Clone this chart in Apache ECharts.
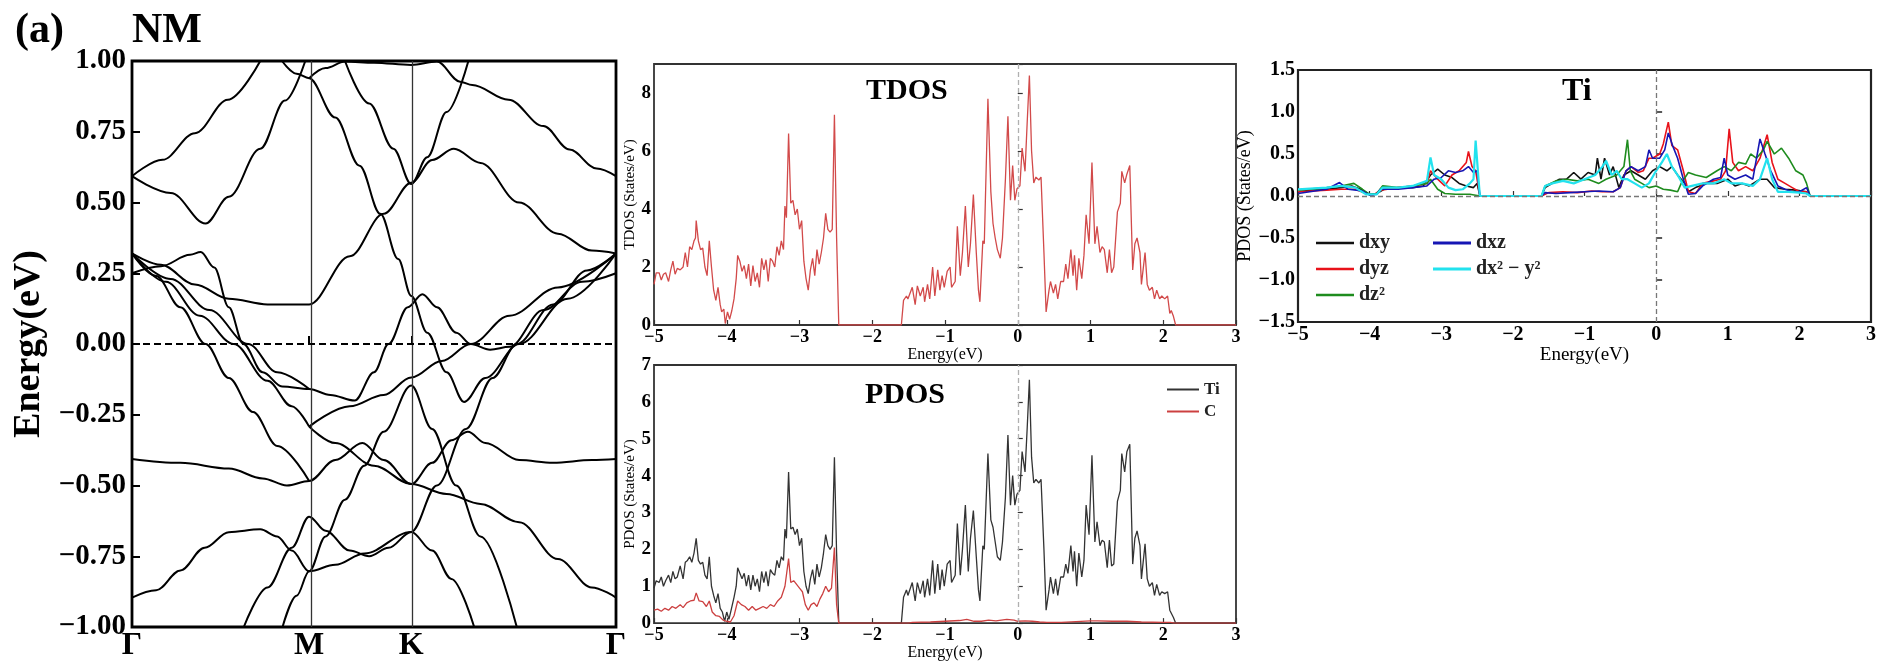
<!DOCTYPE html>
<html>
<head>
<meta charset="utf-8">
<script src="https://cdn.jsdelivr.net/npm/echarts@6/dist/echarts.min.js"></script>
<style>
  html, body { margin: 0; padding: 0; background: #fff; }
  #chart { width: 1879px; height: 662px; }
</style>
</head>
<body>
<div id="chart"></div>
<script>
// k-path ticks of the band panel (normalised path length)
const kTicks = [0, 0.366, 0.577, 1]
const kLabels = ['Γ', 'M', 'K', 'Γ']

// band lines: [k, E(eV)]
const band1 = [[0, 0.593], [0.063, 0.651], [0.13, 0.745], [0.198, 0.863], [0.265, 1.0]]
const band2 = [[0, 0.593], [0.08, 0.534], [0.152, 0.426], [0.2, 0.52], [0.265, 0.69], [0.316, 0.86], [0.358, 1.0]]
const band3 = [[0.31, 1.0], [0.34, 0.955], [0.366, 0.939], [0.42, 0.8], [0.47, 0.63], [0.513, 0.46], [0.55, 0.3], [0.577, 0.17], [0.61, 0.04], [0.65, -0.1], [0.686, -0.205], [0.73, -0.12], [0.8, 0.0], [0.9, 0.16], [1, 0.32]]
const band4 = [[0.44, 1.0], [0.49, 0.85], [0.54, 0.69], [0.577, 0.565], [0.61, 0.66], [0.65, 0.82], [0.695, 1.0]]
const band5 = [[0.366, 0.939], [0.4, 0.975], [0.44, 0.998], [0.5, 0.994], [0.577, 0.986], [0.63, 0.998], [0.678, 0.927], [0.703, 0.915], [0.778, 0.863], [0.85, 0.77], [0.904, 0.687], [0.96, 0.62], [1, 0.593]]
const band6 = [[0, 0.32], [0.06, 0.28], [0.13, 0.21], [0.2, 0.16], [0.28, 0.14], [0.366, 0.14], [0.45, 0.31], [0.52, 0.46], [0.577, 0.57], [0.62, 0.65], [0.665, 0.69], [0.72, 0.64], [0.8, 0.5], [0.88, 0.39], [0.95, 0.33], [1, 0.32]]
const band7 = [[0, 0.25], [0.06, 0.275], [0.12, 0.315], [0.142, 0.325], [0.17, 0.27], [0.2, 0.13], [0.23, 0.0], [0.27, -0.1], [0.31, -0.15], [0.366, -0.159], [0.41, -0.18], [0.46, -0.2], [0.5, -0.1], [0.53, 0.0], [0.57, 0.13], [0.6, 0.176], [0.63, 0.13], [0.67, 0.04], [0.7, 0.0], [0.74, -0.02], [0.78, -0.01], [0.85, 0.12], [0.93, 0.22], [1, 0.25]]
const band8 = [[0, 0.32], [0.05, 0.24], [0.1, 0.13], [0.152, 0.0], [0.2, -0.12], [0.25, -0.24], [0.3, -0.36], [0.366, -0.484]]
const band9 = [[0, 0.32], [0.07, 0.22], [0.14, 0.1], [0.21, 0.0], [0.28, -0.13], [0.33, -0.22], [0.366, -0.292]]
const band10 = [[0, 0.32], [0.08, 0.23], [0.16, 0.12], [0.24, 0.0], [0.3, -0.1], [0.366, -0.159]]
const band11 = [[0.366, -0.292], [0.42, -0.35], [0.5, -0.43], [0.577, -0.495], [0.65, -0.53], [0.72, -0.565], [0.8, -0.63], [0.88, -0.76], [0.95, -0.86], [1, -0.896]]
const band12 = [[0.366, -0.292], [0.45, -0.22], [0.52, -0.18], [0.577, -0.118], [0.64, -0.06], [0.7, 0.0], [0.78, 0.1], [0.88, 0.2], [1, 0.32]]
const band13 = [[0, -0.406], [0.1, -0.42], [0.2, -0.44], [0.27, -0.475], [0.32, -0.5], [0.366, -0.484], [0.42, -0.41], [0.476, -0.35], [0.52, -0.41], [0.577, -0.495], [0.62, -0.42], [0.66, -0.34], [0.694, -0.31], [0.73, -0.35], [0.8, -0.41], [0.87, -0.42], [0.95, -0.41], [1, -0.406]]
const band14 = [[0, -0.896], [0.05, -0.87], [0.1, -0.8], [0.15, -0.72], [0.2, -0.665], [0.265, -0.655], [0.3, -0.68], [0.33, -0.73], [0.366, -0.803], [0.42, -0.78], [0.48, -0.74], [0.577, -0.664], [0.62, -0.73], [0.66, -0.83], [0.707, -1.0]]
const band15 = [[0.231, -1], [0.28, -0.86], [0.33, -0.72], [0.366, -0.61], [0.4, -0.66], [0.45, -0.73], [0.49, -0.75], [0.53, -0.72], [0.577, -0.664], [0.63, -0.5], [0.69, -0.3], [0.745, -0.12], [0.795, 0.0], [0.87, 0.14], [0.94, 0.26], [1, 0.32]]
const band16 = [[0.311, -1], [0.34, -0.89], [0.366, -0.803], [0.4, -0.68], [0.44, -0.55], [0.48, -0.43], [0.52, -0.31], [0.577, -0.147], [0.62, -0.3], [0.67, -0.5], [0.72, -0.68], [0.795, -1.0]]
const bands = [band1, band2, band3, band4, band5, band6, band7, band8, band9, band10, band11, band12, band13, band14, band15, band16]

// total DOS: [E, states/eV]
const tdos = [[-5.0, 1.4], [-4.97, 1.8], [-4.93, 1.8], [-4.9, 1.55], [-4.87, 1.75], [-4.84, 1.8], [-4.8, 1.5], [-4.77, 1.9], [-4.74, 2.2], [-4.71, 1.75], [-4.68, 1.95], [-4.64, 1.9], [-4.6, 2.0], [-4.57, 2.5], [-4.54, 2.0], [-4.51, 2.7], [-4.48, 2.6], [-4.45, 2.9], [-4.43, 3.0], [-4.42, 3.6], [-4.39, 2.9], [-4.36, 2.6], [-4.33, 2.65], [-4.3, 2.0], [-4.27, 1.7], [-4.24, 2.9], [-4.21, 2.0], [-4.18, 1.2], [-4.15, 0.85], [-4.12, 1.3], [-4.09, 0.7], [-4.07, 0.45], [-4.04, 0.55], [-4.02, 0.05], [-3.99, 0.45], [-3.96, 0.2], [-3.93, 0.5], [-3.9, 0.9], [-3.87, 1.6], [-3.85, 2.4], [-3.82, 2.2], [-3.79, 1.85], [-3.76, 2.05], [-3.73, 1.6], [-3.7, 2.1], [-3.67, 1.35], [-3.64, 2.05], [-3.61, 1.5], [-3.58, 1.8], [-3.55, 1.3], [-3.52, 2.3], [-3.49, 1.9], [-3.46, 2.25], [-3.43, 1.5], [-3.4, 2.3], [-3.37, 2.2], [-3.34, 2.0], [-3.31, 2.7], [-3.28, 2.4], [-3.25, 2.9], [-3.22, 2.6], [-3.2, 4.1], [-3.18, 3.7], [-3.15, 6.6], [-3.12, 4.2], [-3.09, 4.3], [-3.06, 3.8], [-3.03, 4.0], [-3.0, 3.3], [-2.97, 3.6], [-2.94, 2.2], [-2.91, 1.6], [-2.88, 1.2], [-2.85, 1.9], [-2.82, 2.3], [-2.79, 1.7], [-2.76, 2.6], [-2.73, 2.1], [-2.7, 2.5], [-2.67, 3.0], [-2.64, 3.85], [-2.61, 3.3], [-2.58, 3.2], [-2.55, 3.3], [-2.52, 7.25], [-2.49, 3.0], [-2.46, 0.0],
  [-1.6, 0.0], [-1.57, 0.85], [-1.53, 1.0], [-1.51, 0.9], [-1.45, 1.3], [-1.41, 0.7], [-1.38, 1.35], [-1.34, 1.0], [-1.3, 1.3], [-1.28, 0.8], [-1.24, 1.4], [-1.21, 0.9], [-1.17, 2.0], [-1.14, 1.0], [-1.1, 1.9], [-1.07, 1.2], [-1.04, 1.7], [-1.01, 1.3], [-0.97, 1.85], [-0.93, 2.0], [-0.91, 1.3], [-0.86, 1.5], [-0.83, 3.4], [-0.79, 1.7], [-0.76, 2.5], [-0.72, 4.1], [-0.68, 2.0], [-0.65, 2.8], [-0.61, 4.5], [-0.57, 2.5], [-0.54, 1.2], [-0.52, 0.8], [-0.48, 2.9], [-0.46, 2.8], [-0.41, 7.8], [-0.37, 4.6], [-0.34, 3.5], [-0.31, 3.0], [-0.28, 2.6], [-0.24, 2.3], [-0.21, 3.0], [-0.17, 5.0], [-0.135, 7.2], [-0.1, 4.3], [-0.07, 5.5], [-0.04, 4.3], [-0.01, 4.7], [0.03, 4.8], [0.06, 6.1], [0.1, 5.3], [0.13, 7.0], [0.16, 8.6], [0.19, 6.0], [0.22, 4.9], [0.25, 5.1], [0.29, 5.0], [0.32, 5.1], [0.36, 2.5], [0.39, 0.45], [0.43, 1.2], [0.45, 1.5], [0.49, 1.1], [0.52, 1.4], [0.55, 0.9], [0.59, 1.5], [0.63, 1.5], [0.66, 2.1], [0.69, 1.6], [0.73, 2.6], [0.76, 1.7], [0.78, 2.4], [0.81, 1.2], [0.84, 2.3], [0.88, 1.6], [0.91, 2.4], [0.94, 3.8], [0.98, 2.8], [1.02, 5.6], [1.06, 2.8], [1.09, 3.4], [1.13, 2.5], [1.16, 2.7], [1.19, 2.6], [1.23, 1.8], [1.26, 2.6], [1.29, 1.8], [1.32, 2.0], [1.37, 3.9], [1.41, 4.2], [1.43, 5.3], [1.47, 4.9], [1.5, 5.2], [1.54, 5.5], [1.58, 1.9], [1.61, 2.8], [1.64, 3.0], [1.68, 2.5], [1.7, 1.4], [1.75, 2.5], [1.78, 1.4], [1.81, 1.2], [1.85, 1.3], [1.88, 0.9], [1.91, 1.2], [1.95, 0.9], [1.98, 1.0], [2.02, 0.9], [2.06, 1.0], [2.09, 0.4], [2.11, 0.5], [2.14, 0.3], [2.17, 0.0], [3.0, 0.0]]

// projected DOS
const pdosTi = [[-5.0, 0.95], [-4.97, 1.15], [-4.93, 1.1], [-4.9, 1.25], [-4.87, 1.0], [-4.84, 1.15], [-4.8, 1.3], [-4.77, 1.1], [-4.74, 1.4], [-4.71, 1.2], [-4.68, 1.25], [-4.64, 1.55], [-4.6, 1.2], [-4.57, 1.65], [-4.54, 1.7], [-4.51, 1.8], [-4.48, 1.65], [-4.45, 1.9], [-4.42, 2.3], [-4.39, 1.7], [-4.36, 1.6], [-4.33, 1.65], [-4.3, 1.3], [-4.27, 1.2], [-4.24, 1.8], [-4.21, 1.0], [-4.18, 0.75], [-4.15, 0.55], [-4.12, 0.8], [-4.09, 0.4], [-4.06, 0.3], [-4.03, 0.05], [-4.0, 0.3], [-3.97, 0.1], [-3.94, 0.35], [-3.9, 0.7], [-3.87, 1.0], [-3.85, 1.5], [-3.82, 1.35], [-3.79, 1.2], [-3.76, 1.35], [-3.73, 1.0], [-3.7, 1.3], [-3.67, 0.9], [-3.64, 1.3], [-3.61, 1.0], [-3.58, 1.2], [-3.55, 0.85], [-3.52, 1.4], [-3.49, 1.1], [-3.46, 1.4], [-3.43, 1.0], [-3.4, 1.45], [-3.37, 1.35], [-3.34, 1.3], [-3.31, 1.7], [-3.28, 1.5], [-3.25, 1.8], [-3.22, 1.7], [-3.2, 2.55], [-3.18, 2.3], [-3.15, 4.1], [-3.12, 2.55], [-3.09, 2.6], [-3.06, 2.4], [-3.03, 2.55], [-3.0, 2.1], [-2.97, 2.3], [-2.94, 1.4], [-2.91, 1.0], [-2.88, 0.8], [-2.85, 1.2], [-2.82, 1.45], [-2.79, 1.05], [-2.76, 1.6], [-2.73, 1.25], [-2.7, 1.5], [-2.67, 1.9], [-2.64, 2.4], [-2.61, 2.1], [-2.58, 2.0], [-2.55, 2.1], [-2.52, 4.5], [-2.49, 1.9], [-2.46, 0.0],
  [-1.6, 0.0], [-1.57, 0.7], [-1.53, 0.9], [-1.51, 0.75], [-1.45, 1.1], [-1.41, 0.6], [-1.38, 1.1], [-1.34, 0.8], [-1.3, 1.15], [-1.28, 0.7], [-1.24, 1.2], [-1.21, 0.75], [-1.17, 1.7], [-1.14, 0.8], [-1.1, 1.6], [-1.07, 0.9], [-1.04, 1.45], [-1.01, 1.0], [-0.97, 1.6], [-0.93, 1.7], [-0.91, 1.1], [-0.86, 1.3], [-0.83, 2.7], [-0.79, 1.3], [-0.76, 2.0], [-0.72, 3.2], [-0.68, 1.4], [-0.65, 2.3], [-0.61, 3.05], [-0.57, 1.8], [-0.54, 0.9], [-0.52, 0.6], [-0.48, 2.1], [-0.46, 2.0], [-0.41, 4.6], [-0.37, 2.8], [-0.34, 2.6], [-0.31, 2.2], [-0.28, 1.8], [-0.24, 1.7], [-0.21, 2.2], [-0.17, 3.4], [-0.135, 5.1], [-0.1, 3.2], [-0.07, 4.0], [-0.04, 3.2], [-0.01, 3.5], [0.03, 3.6], [0.06, 4.65], [0.1, 4.1], [0.13, 5.3], [0.16, 6.6], [0.19, 4.5], [0.22, 3.8], [0.25, 3.9], [0.29, 3.8], [0.32, 3.9], [0.36, 2.0], [0.39, 0.35], [0.43, 0.9], [0.45, 1.25], [0.49, 0.8], [0.52, 1.2], [0.55, 0.75], [0.59, 1.25], [0.63, 1.25], [0.66, 1.6], [0.69, 1.35], [0.73, 2.1], [0.76, 1.4], [0.78, 1.95], [0.81, 1.0], [0.84, 1.9], [0.88, 1.25], [0.91, 1.7], [0.94, 3.2], [0.98, 2.4], [1.02, 4.55], [1.06, 2.2], [1.09, 2.75], [1.13, 2.1], [1.16, 2.25], [1.19, 2.2], [1.23, 1.5], [1.26, 2.25], [1.29, 1.55], [1.32, 1.6], [1.37, 3.3], [1.41, 3.6], [1.43, 4.6], [1.47, 4.1], [1.5, 4.65], [1.54, 4.85], [1.58, 1.6], [1.61, 2.3], [1.64, 2.5], [1.68, 2.1], [1.7, 1.2], [1.75, 2.15], [1.78, 1.2], [1.81, 1.0], [1.85, 1.1], [1.88, 0.75], [1.91, 1.05], [1.95, 0.75], [1.98, 0.85], [2.02, 0.8], [2.06, 0.85], [2.09, 0.35], [2.11, 0.4], [2.14, 0.15], [2.17, 0.0], [3.0, 0.0]]
const pdosC = [[-5.0, 0.35], [-4.95, 0.38], [-4.9, 0.32], [-4.85, 0.4], [-4.8, 0.35], [-4.75, 0.45], [-4.7, 0.4], [-4.64, 0.5], [-4.6, 0.42], [-4.55, 0.55], [-4.5, 0.6], [-4.45, 0.62], [-4.42, 0.82], [-4.38, 0.6], [-4.33, 0.58], [-4.28, 0.45], [-4.24, 0.6], [-4.2, 0.3], [-4.15, 0.2], [-4.1, 0.18], [-4.05, 0.08], [-4.0, 0.05], [-3.95, 0.03], [-3.9, 0.2], [-3.85, 0.6], [-3.8, 0.5], [-3.75, 0.45], [-3.7, 0.35], [-3.65, 0.45], [-3.6, 0.35], [-3.55, 0.4], [-3.5, 0.45], [-3.45, 0.4], [-3.4, 0.5], [-3.35, 0.45], [-3.3, 0.6], [-3.25, 0.7], [-3.2, 1.0], [-3.18, 0.95], [-3.15, 1.75], [-3.12, 1.1], [-3.08, 1.15], [-3.04, 1.05], [-3.0, 0.95], [-2.96, 0.85], [-2.92, 0.5], [-2.88, 0.35], [-2.84, 0.5], [-2.8, 0.55], [-2.76, 0.45], [-2.72, 0.65], [-2.68, 0.8], [-2.64, 1.0], [-2.6, 0.85], [-2.56, 0.95], [-2.52, 2.05], [-2.49, 0.5], [-2.46, 0.0], [-1.5, 0.0], [-1.45, 0.02], [-1.2, 0.03], [-1.0, 0.05], [-0.8, 0.07], [-0.7, 0.1], [-0.6, 0.05], [-0.5, 0.05], [-0.4, 0.08], [-0.3, 0.06], [-0.15, 0.1], [-0.05, 0.08], [0.0, 0.05], [0.1, 0.06], [0.2, 0.05], [0.3, 0.03], [0.4, 0.02], [0.6, 0.02], [0.8, 0.04], [1.0, 0.06], [1.02, 0.1], [1.1, 0.06], [1.3, 0.05], [1.5, 0.05], [1.7, 0.03], [2.0, 0.02], [2.1, 0.02], [2.15, 0.0], [3.0, 0.0]]

// Ti d-orbital PDOS
const dxy = [[-5, 0.05], [-4.8, 0.07], [-4.6, 0.08], [-4.4, 0.1], [-4.25, 0.12], [-4.1, 0.07], [-4.0, 0.02], [-3.9, 0.03], [-3.8, 0.08], [-3.6, 0.1], [-3.4, 0.1], [-3.25, 0.12], [-3.15, 0.25], [-3.05, 0.32], [-2.95, 0.25], [-2.85, 0.22], [-2.75, 0.15], [-2.65, 0.12], [-2.55, 0.1], [-2.5, 0.15], [-2.46, 0], [-1.6, 0], [-1.55, 0.1], [-1.45, 0.15], [-1.35, 0.2], [-1.25, 0.2], [-1.15, 0.28], [-1.05, 0.2], [-0.95, 0.28], [-0.85, 0.25], [-0.82, 0.45], [-0.77, 0.2], [-0.72, 0.45], [-0.65, 0.25], [-0.6, 0.35], [-0.52, 0.1], [-0.45, 0.25], [-0.35, 0.3], [-0.25, 0.25], [-0.15, 0.2], [-0.05, 0.3], [0.05, 0.35], [0.15, 0.3], [0.22, 0.35], [0.3, 0.25], [0.4, 0.15], [0.45, 0.05], [0.55, 0.1], [0.7, 0.15], [0.85, 0.15], [1.0, 0.2], [1.1, 0.12], [1.2, 0.15], [1.3, 0.12], [1.45, 0.2], [1.55, 0.2], [1.65, 0.1], [1.8, 0.08], [1.95, 0.07], [2.1, 0.05], [2.15, 0], [3, 0]]
const dyz = [[-5, 0.05], [-4.6, 0.07], [-4.4, 0.08], [-4.2, 0.08], [-4.05, 0.03], [-3.95, 0.01], [-3.85, 0.07], [-3.6, 0.1], [-3.4, 0.12], [-3.2, 0.15], [-3.15, 0.3], [-3.05, 0.2], [-2.95, 0.12], [-2.85, 0.25], [-2.75, 0.3], [-2.65, 0.4], [-2.62, 0.53], [-2.57, 0.35], [-2.52, 0.3], [-2.46, 0], [-1.6, 0], [-1.5, 0.04], [-1.3, 0.05], [-1.1, 0.04], [-0.9, 0.06], [-0.75, 0.05], [-0.6, 0.05], [-0.5, 0.1], [-0.42, 0.3], [-0.35, 0.35], [-0.25, 0.28], [-0.18, 0.3], [-0.1, 0.45], [-0.05, 0.45], [0.05, 0.5], [0.1, 0.62], [0.17, 0.88], [0.22, 0.6], [0.3, 0.55], [0.38, 0.3], [0.45, 0.05], [0.55, 0.03], [0.65, 0.15], [0.8, 0.18], [0.9, 0.2], [0.97, 0.3], [1.02, 0.8], [1.07, 0.4], [1.15, 0.3], [1.25, 0.35], [1.35, 0.3], [1.45, 0.45], [1.55, 0.73], [1.62, 0.4], [1.7, 0.2], [1.8, 0.15], [1.9, 0.1], [2.0, 0.05], [2.1, 0.05], [2.15, 0], [3, 0]]
const dz2 = [[-5, 0.07], [-4.6, 0.1], [-4.4, 0.12], [-4.22, 0.15], [-4.1, 0.08], [-4.0, 0.02], [-3.9, 0.03], [-3.82, 0.12], [-3.6, 0.1], [-3.4, 0.12], [-3.2, 0.15], [-3.15, 0.2], [-3.05, 0.08], [-2.95, 0.03], [-2.8, 0.02], [-2.6, 0.02], [-2.46, 0], [-1.6, 0], [-1.55, 0.12], [-1.4, 0.18], [-1.25, 0.2], [-1.1, 0.18], [-0.95, 0.2], [-0.8, 0.15], [-0.7, 0.2], [-0.55, 0.25], [-0.45, 0.35], [-0.4, 0.67], [-0.36, 0.3], [-0.3, 0.2], [-0.2, 0.15], [-0.1, 0.1], [0.0, 0.12], [0.1, 0.08], [0.2, 0.07], [0.3, 0.05], [0.35, 0.15], [0.45, 0.28], [0.55, 0.25], [0.7, 0.22], [0.85, 0.3], [0.95, 0.35], [1.05, 0.3], [1.15, 0.4], [1.25, 0.38], [1.32, 0.5], [1.4, 0.45], [1.5, 0.55], [1.55, 0.65], [1.65, 0.5], [1.75, 0.57], [1.85, 0.45], [1.95, 0.3], [2.05, 0.25], [2.1, 0.15], [2.15, 0], [3, 0]]
const dxz = [[-5, 0.03], [-4.6, 0.08], [-4.42, 0.16], [-4.3, 0.08], [-4.1, 0.06], [-4.0, 0.01], [-3.9, 0.02], [-3.85, 0.08], [-3.6, 0.08], [-3.4, 0.1], [-3.2, 0.12], [-3.1, 0.2], [-3.0, 0.22], [-2.9, 0.3], [-2.8, 0.28], [-2.7, 0.3], [-2.62, 0.35], [-2.55, 0.28], [-2.5, 0.3], [-2.46, 0], [-1.6, 0], [-1.55, 0.04], [-1.4, 0.03], [-1.2, 0.04], [-1.0, 0.05], [-0.8, 0.06], [-0.6, 0.05], [-0.5, 0.1], [-0.42, 0.3], [-0.35, 0.35], [-0.25, 0.3], [-0.15, 0.35], [-0.1, 0.55], [-0.05, 0.45], [0.05, 0.45], [0.12, 0.55], [0.17, 0.75], [0.23, 0.6], [0.3, 0.45], [0.38, 0.2], [0.45, 0.02], [0.55, 0.03], [0.65, 0.12], [0.8, 0.2], [0.9, 0.22], [0.95, 0.45], [1.0, 0.25], [1.1, 0.2], [1.25, 0.25], [1.35, 0.2], [1.45, 0.68], [1.52, 0.5], [1.6, 0.3], [1.7, 0.12], [1.8, 0.08], [1.9, 0.05], [2.0, 0.05], [2.1, 0.1], [2.15, 0], [3, 0]]
const dx2y2 = [[-5, 0.08], [-4.6, 0.1], [-4.4, 0.12], [-4.2, 0.1], [-4.05, 0.02], [-3.9, 0.02], [-3.82, 0.1], [-3.6, 0.1], [-3.4, 0.12], [-3.2, 0.18], [-3.15, 0.46], [-3.1, 0.25], [-3.0, 0.2], [-2.9, 0.1], [-2.8, 0.07], [-2.7, 0.08], [-2.6, 0.15], [-2.55, 0.2], [-2.52, 0.66], [-2.48, 0.2], [-2.46, 0], [-1.6, 0], [-1.55, 0.12], [-1.45, 0.15], [-1.3, 0.18], [-1.15, 0.15], [-1.0, 0.2], [-0.85, 0.25], [-0.75, 0.35], [-0.7, 0.42], [-0.62, 0.25], [-0.55, 0.3], [-0.48, 0.2], [-0.4, 0.2], [-0.3, 0.15], [-0.2, 0.1], [-0.1, 0.15], [0.0, 0.3], [0.08, 0.4], [0.15, 0.5], [0.22, 0.35], [0.3, 0.25], [0.4, 0.1], [0.5, 0.12], [0.65, 0.15], [0.8, 0.15], [0.95, 0.2], [1.05, 0.15], [1.2, 0.15], [1.35, 0.12], [1.45, 0.2], [1.55, 0.45], [1.62, 0.2], [1.7, 0.05], [1.85, 0.05], [2.0, 0.04], [2.1, 0.03], [2.15, 0], [3, 0]]

const serif = '"Liberation Serif", "Times New Roman", serif'

function fmt (v, d) {
  const s = Math.abs(v).toFixed(d)
  return v < -1e-9 ? '\u2212' + s : s
}

const chart = echarts.init(document.getElementById('chart'))

const boldLabel = size => ({ fontFamily: serif, fontWeight: 'bold', fontSize: size, color: '#000' })

const dosX = (gridIndex, nameGap, nameSize, labelSize, labelMargin) => ({
  type: 'value',
  gridIndex,
  min: -5,
  max: 3,
  interval: 1,
  name: 'Energy(eV)',
  nameLocation: 'middle',
  nameGap,
  nameTextStyle: { fontFamily: serif, fontSize: nameSize, color: '#000' },
  axisLine: { show: false },
  axisTick: { inside: true, length: 5, lineStyle: { color: '#333', width: 1.2 } },
  axisLabel: { ...boldLabel(labelSize), margin: labelMargin, formatter: v => fmt(v, 0) },
  splitLine: { show: false }
})

const bandSeries = bands.map((b, i) => ({
  type: 'line',
  xAxisIndex: 0,
  yAxisIndex: 0,
  data: b,
  smooth: 0.35,
  smoothMonotone: 'x',
  symbol: 'none',
  silent: true,
  lineStyle: { color: '#000', width: 2 },
  z: 3,
  markLine: i === 0 ? {
    silent: true,
    symbol: 'none',
    label: { show: false },
    data: [
      { xAxis: kTicks[1], lineStyle: { color: '#333', width: 1.3, type: 'solid' } },
      { xAxis: kTicks[2], lineStyle: { color: '#333', width: 1.3, type: 'solid' } },
      { yAxis: 0, lineStyle: { color: '#000', width: 2, type: [7, 4] } }
    ]
  } : undefined
}))

const zeroLine = (color, withY) => ({
  silent: true,
  symbol: 'none',
  label: { show: false },
  lineStyle: { color, width: 1.3, type: [5, 3] },
  data: withY ? [{ xAxis: 0 }, { yAxis: 0 }] : [{ xAxis: 0 }]
})

const dosLine = (name, data, xi, color, width, extra) => Object.assign({
  name,
  type: 'line',
  xAxisIndex: xi,
  yAxisIndex: xi,
  data,
  symbol: 'none',
  silent: true,
  lineStyle: { color, width },
  itemStyle: { color }
}, extra || {})

const legendText = size => ({ fontFamily: serif, fontWeight: 'bold', fontSize: size, color: '#222' })

chart.setOption({
  animation: false,
  backgroundColor: '#fff',
  grid: [
    { left: 132, top: 61, width: 484, height: 572, show: true, borderColor: '#000', borderWidth: 2.8 },
    { left: 654, top: 64, width: 582, height: 261, show: true, borderColor: '#333', borderWidth: 1.8 },
    { left: 654, top: 365, width: 582, height: 262, show: true, borderColor: '#333', borderWidth: 1.8 },
    { left: 1298, top: 70, width: 574, height: 252, show: true, borderColor: '#222', borderWidth: 2.2 }
  ],
  xAxis: [
    {
      type: 'value',
      gridIndex: 0,
      min: 0,
      max: 1,
      axisLine: { show: false },
      axisTick: { show: true, inside: true, length: 8, customValues: [kTicks[1], kTicks[2]], lineStyle: { color: '#000', width: 2 } },
      axisLabel: {
        ...boldLabel(32),
        margin: 3,
        customValues: kTicks,
        formatter: v => kLabels[kTicks.indexOf(v)] || ''
      },
      splitLine: { show: false }
    },
    dosX(1, 17, 16, 18, 3),
    dosX(2, 17, 16, 18, 3),
    dosX(3, 24, 19, 20, 3)
  ],
  yAxis: [
    {
      type: 'value',
      gridIndex: 0,
      min: -1,
      max: 1,
      interval: 0.25,
      name: 'Energy(eV)',
      nameLocation: 'middle',
      nameGap: 84,
      nameTextStyle: { fontFamily: serif, fontWeight: 'bold', fontSize: 38, color: '#000' },
      axisLine: { show: false },
      axisTick: { inside: true, length: 8, lineStyle: { color: '#000', width: 2 } },
      axisLabel: { ...boldLabel(29), margin: 6, formatter: v => fmt(v, 2) },
      splitLine: { show: false }
    },
    {
      type: 'value',
      gridIndex: 1,
      min: 0,
      max: 9,
      interval: 2,
      name: 'TDOS (States/eV)',
      nameLocation: 'middle',
      nameGap: 16,
      nameTextStyle: { fontFamily: serif, fontSize: 15, color: '#000' },
      axisLine: { show: false },
      axisTick: { inside: true, length: 5, lineStyle: { color: '#333', width: 1.2 } },
      axisLabel: { ...boldLabel(19), margin: 3, formatter: v => (v % 2 === 0 ? String(v) : '') },
      splitLine: { show: false }
    },
    {
      type: 'value',
      gridIndex: 2,
      min: 0,
      max: 7,
      interval: 1,
      name: 'PDOS (States/eV)',
      nameLocation: 'middle',
      nameGap: 16,
      nameTextStyle: { fontFamily: serif, fontSize: 15, color: '#000' },
      axisLine: { show: false },
      axisTick: { inside: true, length: 5, lineStyle: { color: '#333', width: 1.2 } },
      axisLabel: { ...boldLabel(19), margin: 3 },
      splitLine: { show: false }
    },
    {
      type: 'value',
      gridIndex: 3,
      min: -1.5,
      max: 1.5,
      interval: 0.5,
      name: 'PDOS (States/eV)',
      nameLocation: 'middle',
      nameGap: 40,
      nameTextStyle: { fontFamily: serif, fontSize: 18, color: '#000' },
      axisLine: { show: false },
      axisTick: { inside: true, length: 6, lineStyle: { color: '#222', width: 1.5 } },
      axisLabel: { ...boldLabel(20), margin: 3, formatter: v => fmt(v, 1) },
      splitLine: { show: false }
    }
  ],
  legend: [
    {
      data: ['Ti', 'C'],
      left: 1162,
      top: 376,
      orient: 'vertical',
      icon: 'rect',
      itemWidth: 32,
      itemHeight: 2,
      itemGap: 5,
      textStyle: legendText(17)
    },
    {
      data: ['dxy', 'dyz', 'dz²'],
      left: 1311,
      top: 228,
      orient: 'vertical',
      icon: 'rect',
      itemWidth: 38,
      itemHeight: 2.5,
      itemGap: 6,
      textStyle: legendText(20)
    },
    {
      data: ['dxz', 'dx² − y²'],
      left: 1428,
      top: 228,
      orient: 'vertical',
      icon: 'rect',
      itemWidth: 38,
      itemHeight: 3,
      itemGap: 6,
      textStyle: legendText(20)
    }
  ],
  graphic: [
    { type: 'text', left: 15, top: 10, style: { text: '(a)', font: 'bold 42px ' + serif, fill: '#000' } },
    { type: 'text', left: 132, top: 10, style: { text: 'NM', font: 'bold 42px ' + serif, fill: '#000' } },
    { type: 'text', left: 866, top: 76, style: { text: 'TDOS', font: 'bold 30px ' + serif, fill: '#000' } },
    { type: 'text', left: 865, top: 380, style: { text: 'PDOS', font: 'bold 30px ' + serif, fill: '#000' } },
    { type: 'text', left: 1562, top: 76, style: { text: 'Ti', font: 'bold 32px ' + serif, fill: '#000' } }
  ],
  series: [
    ...bandSeries,
    dosLine('TDOS', tdos, 1, '#d24a4a', 1.3, { markLine: zeroLine('#b0b0b0', false) }),
    dosLine('Ti', pdosTi, 2, '#333333', 1.3, { markLine: zeroLine('#b0b0b0', false) }),
    dosLine('C', pdosC, 2, '#cc4040', 1.3),
    dosLine('dxy', dxy, 3, '#111111', 1.6, { markLine: zeroLine('#777777', true) }),
    dosLine('dyz', dyz, 3, '#e8121a', 1.6),
    dosLine('dz²', dz2, 3, '#1e8c1e', 1.6),
    dosLine('dxz', dxz, 3, '#1616b4', 1.6),
    dosLine('dx² − y²', dx2y2, 3, '#22e2ee', 2.2)
  ]
})
</script>
</body>
</html>
